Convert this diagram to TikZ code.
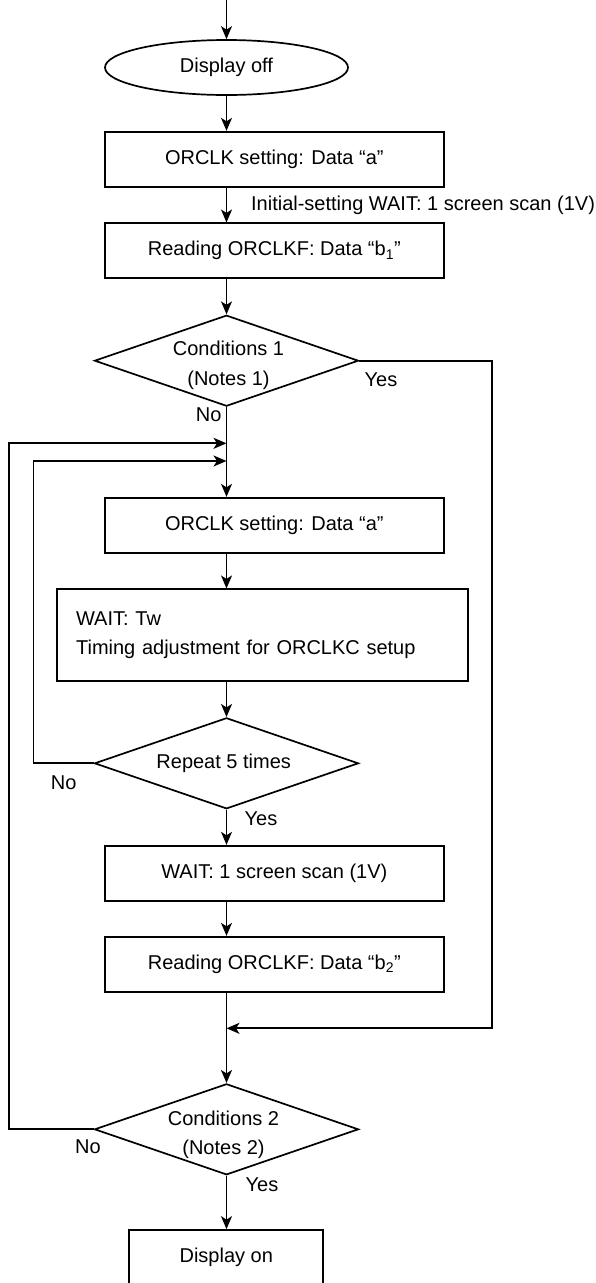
\documentclass[tikz,border=0pt]{standalone}
\usepackage{fontspec}
\setmainfont{Liberation Sans}
\usetikzlibrary{arrows.meta,shapes.geometric}
\begin{document}
\begin{tikzpicture}[x=1pt,y=-1pt,
  line width=1.7pt,
  every node/.style={font=\fontsize{20}{29.5}\selectfont, inner sep=0pt},
  arr/.style={-{Stealth[length=13pt,width=11pt,inset=3.5pt]}},
  proc/.style={draw, rectangle, minimum width=338.7pt, minimum height=55pt},
  term/.style={draw, ellipse, minimum width=243pt, minimum height=55pt},
  dia/.style={draw, diamond, minimum width=264pt, minimum height=91pt},
  lbl/.style={align=center}]
\useasboundingbox (0,0) rectangle (595,1283);

% nodes
\coordinate (top) at (226.5,0);
\node[term] (ell) at (226.5,67.5) {Display off};
\node[proc] (b1) at (274.3,159.2) {ORCLK setting: Data “a”};
\node[anchor=west] (w1) at (250.3,205) {Initial-setting WAIT: 1 screen scan (1V)};
\node[proc] (b2) at (274.3,250.8) {Reading ORCLKF: Data “b\textsubscript{1}”};
\node[dia] (d1) at (226.5,360.7) {};
\node[lbl] (d1t) at (228.5,365.5) {Conditions 1\\(Notes 1)};
\node (y1) at (381,379.3) {Yes};
\node (n1) at (208.6,415) {No};
\coordinate (j1) at (226.5,443.3);
\coordinate (j2) at (226.5,461);
\node[proc] (b3) at (274.3,525.2) {ORCLK setting: Data “a”};
\node[draw, rectangle, minimum width=411.4pt, minimum height=91.4pt,
      text width=373pt, align=left] (b4) at (262.6,635)
      {WAIT: Tw\\Timing adjustment for ORCLKC setup};
\node[dia] (d2) at (226.5,763.3) {};
\node (d2t) at (223.7,763) {Repeat 5 times};
\node (n2) at (63.7,782.7) {No};
\node (y2) at (261,818.3) {Yes};
\node[proc] (b5) at (274.3,873.2) {WAIT: 1 screen scan (1V)};
\node[proc] (b6) at (274.3,964.2) {Reading ORCLKF: Data “b\textsubscript{2}”};
\coordinate (j3) at (226.5,1028.3);
\coordinate (rc) at (492.3,1028.3);
\node[dia] (d3) at (226.5,1129.3) {};
\node[lbl] (d3t) at (223.5,1135) {Conditions 2\\(Notes 2)};
\node (n3) at (88,1146.7) {No};
\node (y3) at (262,1184.3) {Yes};
\node[draw, rectangle, minimum width=194pt, minimum height=55pt] (b7) at (226.3,1257.5) {Display on};

% connectors
\draw[arr] (top) -- (ell.north);
\draw[arr] (ell.south) -- (ell.south |- b1.north);
\draw[arr] (ell.south |- b1.south) -- (ell.south |- b2.north);
\draw[arr] (ell.south |- b2.south) -- (d1.north);
\draw[arr] (d1.south) -- (d1.south |- b3.north);
\draw[arr] (d1.east) -| (rc) -- (j3);
\draw[arr] (d3.west) -- ++(-84.6,0) |- (j1);
\draw[arr] (d2.west) -- ++(-60.2,0) |- (j2);
\draw[arr] (d1.south |- b3.south) -- (d1.south |- b4.north);
\draw[arr] (d2.north |- b4.south) -- (d2.north);
\draw[arr] (d2.south) -- (d2.south |- b5.north);
\draw[arr] (d2.south |- b5.south) -- (d2.south |- b6.north);
\draw[arr] (d2.south |- b6.south) -- (d3.north);
\draw[arr] (d3.south) -- (b7.north -| d3.south);
\end{tikzpicture}
\end{document}
